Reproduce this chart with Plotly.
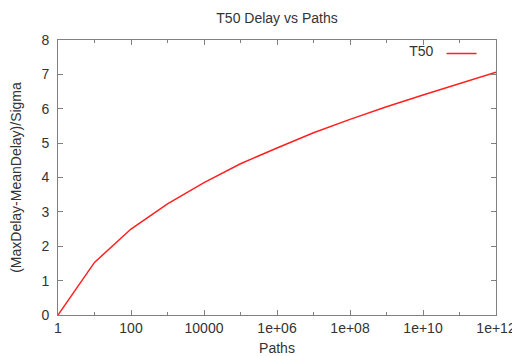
import plotly.graph_objects as go

paths = [1, 10, 100, 1e3, 1e4, 1e5, 1e6, 1e7, 1e8, 1e9, 1e10, 1e11, 1e12]
t50 = [0.0, 1.53, 2.50, 3.23, 3.85, 4.40, 4.86, 5.30, 5.69, 6.06, 6.40, 6.73, 7.06]

x_tickvals = [1, 100, 1e4, 1e6, 1e8, 1e10, 1e12]
x_ticktext = ["1", "100", "10000", "1e+06", "1e+08", "1e+10", "1e+12"]
x_minorvals = [10, 1e3, 1e5, 1e7, 1e9, 1e11]
y_tickvals = [0, 1, 2, 3, 4, 5, 6, 7, 8]

FONT = "Liberation Sans, Arial, sans-serif"
AXC = "#808080"
TXT = "#333333"

fig = go.Figure()
fig.add_trace(go.Scatter(x=paths, y=t50, mode="lines", name="",
                         line=dict(color="#ff2020", width=1.5), showlegend=True))

# page body adds an 8px offset, so the figure is 512x348
fig.update_layout(
    width=512, height=348,
    margin=dict(l=50, r=24, t=32, b=41),
    paper_bgcolor="white", plot_bgcolor="white",
    font=dict(family=FONT, color=TXT, size=14),
    title=dict(text="T50 Delay vs Paths", xref="paper", x=0.5, xanchor="center",
               y=0.971, yanchor="middle", font=dict(size=14, color=TXT)),
    legend=dict(x=0.98, y=1.008, xanchor="right", yanchor="top",
                bgcolor="rgba(0,0,0,0)", font=dict(size=14, color=TXT),
                title=dict(text="T50", side="left", font=dict(size=14, color=TXT)),
                itemwidth=30),
    xaxis=dict(type="log", range=[0, 12], tickvals=x_tickvals, ticktext=x_ticktext,
               ticks="inside", ticklen=5, tickcolor=AXC, showline=True, linecolor=AXC,
               linewidth=1, mirror="allticks", showgrid=False, zeroline=False,
               automargin=False,
               tickfont=dict(size=14, color=TXT),
               minor=dict(tickvals=x_minorvals, ticks="inside", ticklen=3, tickcolor=AXC, showgrid=False),
               title=dict(text="Paths", font=dict(size=14, color=TXT), standoff=9)),
    yaxis=dict(range=[0, 8], tickvals=y_tickvals, ticks="inside", ticklen=5, tickcolor=AXC,
               showline=True, linecolor=AXC, linewidth=1, mirror="allticks",
               showgrid=False, zeroline=False, automargin=False, ticklabelstandoff=5,
               tickfont=dict(size=14, color=TXT),
               title=dict(text="(MaxDelay-MeanDelay)/Sigma", font=dict(size=14, color=TXT), standoff=23)),
)

fig.write_html("out.html")
